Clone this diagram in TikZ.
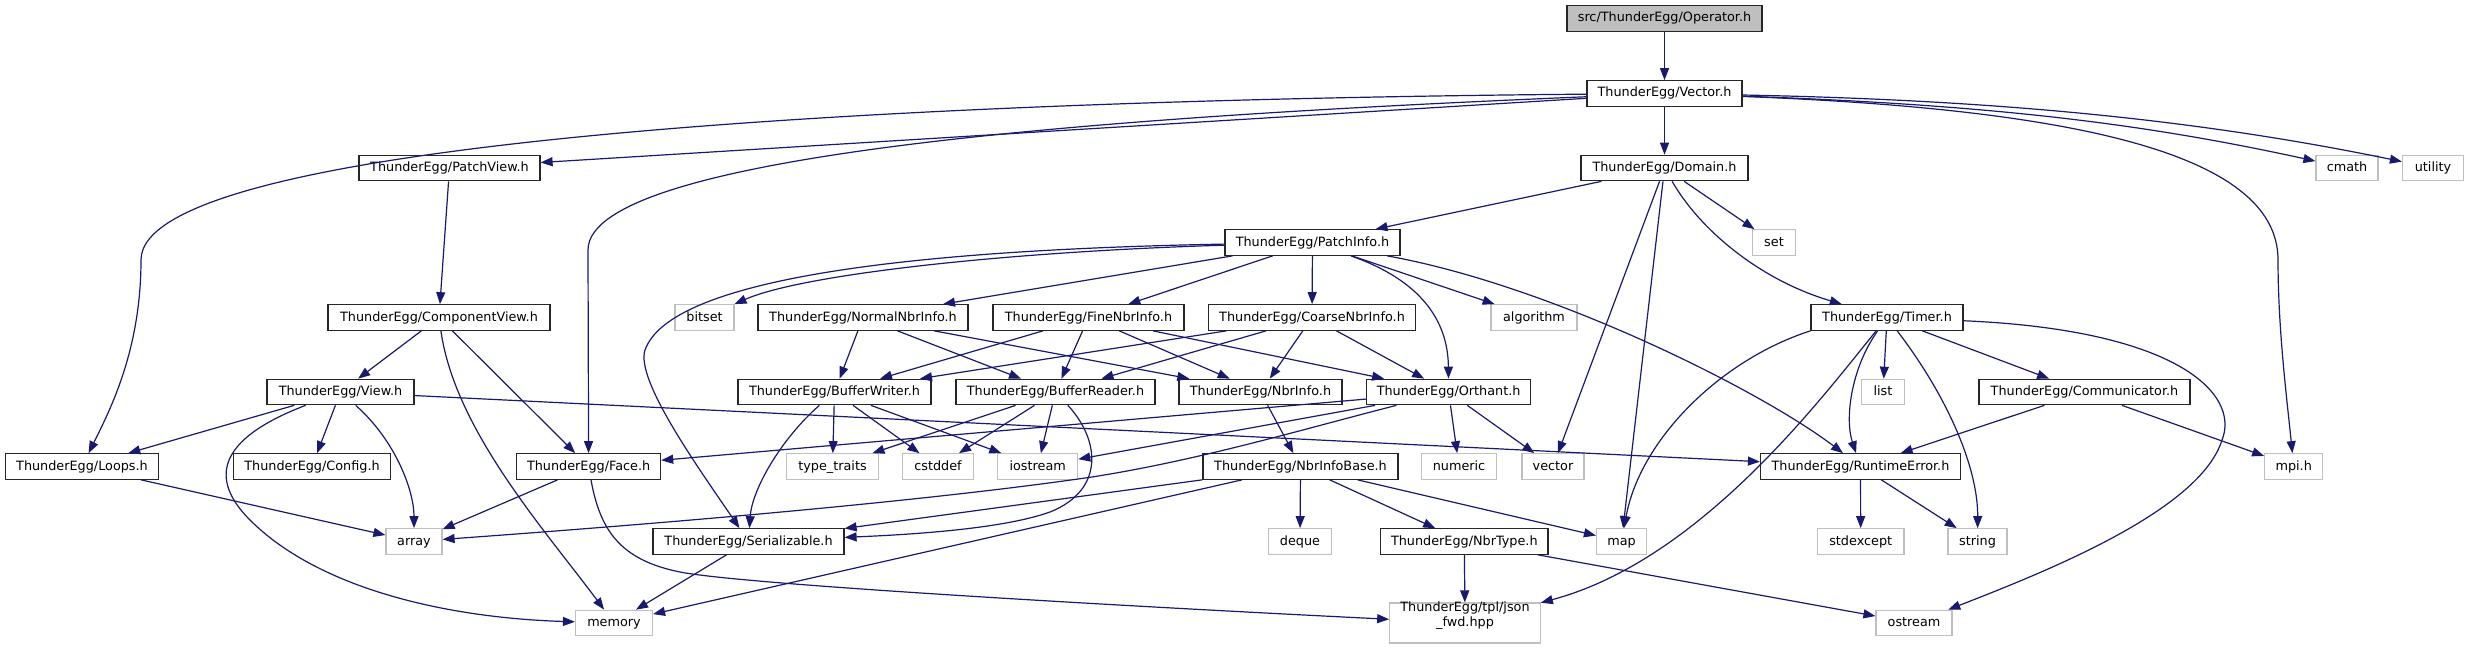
\documentclass[tikz,border=0pt]{standalone}
\usepackage{fontspec}
\setmainfont{DejaVu Sans}
\usetikzlibrary{arrows.meta}
\definecolor{edgec}{HTML}{191970}
\definecolor{extc}{HTML}{BFBFBF}
\definecolor{rootc}{HTML}{BFBFBF}
\tikzset{
  box/.style={draw=black!85, line width=1.2bp, fill=white, inner sep=0pt, minimum height=25.5bp, text height=9.6bp, text depth=2.6bp, font=\fontsize{12.8bp}{15bp}\selectfont},
  ext/.style={box, draw=extc},
  rootbox/.style={box, fill=rootc},
  dep/.style={draw=edgec, line width=1.2bp, -{Triangle[length=12bp,width=9bp]}},
}
\begin{document}
\begin{tikzpicture}[x=1bp,y=-1bp]
\useasboundingbox[fill=white] (0,0) rectangle (2468,649);
% row 1-3
\node[rootbox, minimum width=195bp] (op) at (1664.5,18.5) {src/ThunderEgg/Operator.h};
\node[box, minimum width=155bp] (vec) at (1664.5,93.5) {ThunderEgg/Vector.h};
\node[box, minimum width=167bp] (dom) at (1664.5,168) {ThunderEgg/Domain.h};
\node[box, minimum width=181bp] (pview) at (449.5,168) {ThunderEgg/PatchView.h};
\node[ext, minimum width=62bp] (cmath) at (2347,168) {cmath};
\node[ext, minimum width=61bp] (utility) at (2433,168) {utility};
\node[box, minimum width=175bp] (pinfo) at (1312.5,242.5) {ThunderEgg/PatchInfo.h};
\node[ext, minimum width=43bp] (set) at (1774,242.5) {set};
% row 4
\node[box, minimum width=222bp] (cview) at (439,317.5) {ThunderEgg/ComponentView.h};
\node[ext, minimum width=59bp] (bitset) at (704.5,317.5) {bitset};
\node[box, minimum width=210bp] (normal) at (863,317.5) {ThunderEgg/NormalNbrInfo.h};
\node[box, minimum width=191bp] (fine) at (1088.5,317.5) {ThunderEgg/FineNbrInfo.h};
\node[box, minimum width=207bp] (coarse) at (1312,317.5) {ThunderEgg/CoarseNbrInfo.h};
\node[ext, minimum width=86bp] (algorithm) at (1534,317.5) {algorithm};
\node[box, minimum width=152bp] (timer) at (1887,317.5) {ThunderEgg/Timer.h};
% row 5
\node[box, minimum width=147bp] (view) at (340.5,392) {ThunderEgg/View.h};
\node[box, minimum width=193bp] (bwriter) at (834.5,392) {ThunderEgg/BufferWriter.h};
\node[box, minimum width=199bp] (breader) at (1055.5,392) {ThunderEgg/BufferReader.h};
\node[box, minimum width=163bp] (nbrinfo) at (1260.5,392) {ThunderEgg/NbrInfo.h};
\node[box, minimum width=164bp] (orthant) at (1448.6,392) {ThunderEgg/Orthant.h};
\node[ext, minimum width=43bp] (list) at (1883,392) {list};
\node[box, minimum width=211bp] (comm) at (2084.5,392) {ThunderEgg/Communicator.h};
% row 6
\node[box, minimum width=153.5bp] (loops) at (82,466.5) {ThunderEgg/Loops.h};
\node[box, minimum width=157bp] (config) at (312,466.5) {ThunderEgg/Config.h};
\node[box, minimum width=144bp] (face) at (588.6,466.5) {ThunderEgg/Face.h};
\node[ext, minimum width=91.5bp] (typetraits) at (832.5,466.5) {type\_traits};
\node[ext, minimum width=70.6bp] (cstddef) at (938,466.5) {cstddef};
\node[ext, minimum width=80bp] (iostream) at (1037.7,466.5) {iostream};
\node[box, minimum width=195bp] (nbase) at (1300.5,466.5) {ThunderEgg/NbrInfoBase.h};
\node[ext, minimum width=75bp] (numeric) at (1459,466.5) {numeric};
\node[ext, minimum width=62bp] (vector) at (1553,466.5) {vector};
\node[box, minimum width=200bp] (runtime) at (1860.5,466.5) {ThunderEgg/RuntimeError.h};
\node[ext, minimum width=58bp] (mpi) at (2293.7,466.5) {mpi.h};
% row 7
\node[ext, minimum width=56bp] (array) at (414,541.5) {array};
\node[box, minimum width=191bp] (serial) at (748.5,541.5) {ThunderEgg/Serializable.h};
\node[ext, minimum width=62.5bp] (deque) at (1300,541.5) {deque};
\node[box, minimum width=167.4bp] (nbrtype) at (1464.3,541.5) {ThunderEgg/NbrType.h};
\node[ext, minimum width=50bp] (map) at (1621.5,541.5) {map};
\node[ext, minimum width=86.6bp] (stdexcept) at (1860.7,541.5) {stdexcept};
\node[ext, minimum width=59bp] (string) at (1977.5,541.5) {string};
% row 8
\node[ext, minimum width=77bp] (memory) at (614,623) {memory};
\node[ext, minimum width=150.5bp, minimum height=40bp, align=center, font=\fontsize{12.8bp}{15.5bp}\selectfont] (json) at (1465,623) {ThunderEgg/tpl/json\\\_fwd.hpp};
\node[ext, minimum width=76bp] (ostream) at (1914,623) {ostream};

% edges
\draw[dep] (op) -- (vec);
\draw[dep] (vec) -- (dom);
\draw[dep] (vec) -- (pview);
\draw[dep] (vec) .. controls (900,100) and (141,140) .. (141,260) .. controls (141,350) and (110,410) .. (loops);
\draw[dep] (vec) .. controls (1150,115) and (588,150) .. (588,250) -- (face);
\draw[dep] (vec) .. controls (2000,105) and (2150,125) .. (cmath);
\draw[dep] (vec) .. controls (2000,100) and (2200,120) .. (utility);
\draw[dep] (vec) .. controls (2100,110) and (2278,160) .. (2278,260) .. controls (2278,330) and (2287,400) .. (mpi);

\draw[dep] (dom) -- (pinfo);
\draw[dep] (dom) -- (set);
\draw[dep] (dom) .. controls (1700,230) and (1760,280) .. (timer);
\draw[dep] (dom) -- (vector);
\draw[dep] (dom) -- (map);

\draw[dep] (pview) -- (cview);
\draw[dep] (cview) -- (view);
\draw[dep] (cview) -- (face);
\draw[dep] (cview) .. controls (455,430) and (545,530) .. (memory);

\draw[dep] (view) -- (loops);
\draw[dep] (view) -- (config);
\draw[dep] (view) .. controls (395,440) and (414,490) .. (array);
\draw[dep] (view) .. controls (215,440) and (210,480) .. (250,520) .. controls (320,590) and (450,618) .. (memory);
\draw[dep] (view) -- (runtime);

\draw[dep] (loops) -- (array);
\draw[dep] (face) -- (array);
\draw[dep] (face) .. controls (600,530) and (620,560) .. (680,572) .. controls (740,584) and (1100,605) .. (json);

\draw[dep] (pinfo) .. controls (1000,252) and (800,275) .. (bitset);
\draw[dep] (pinfo) -- (normal);
\draw[dep] (pinfo) -- (fine);
\draw[dep] (pinfo) -- (coarse);
\draw[dep] (pinfo) -- (algorithm);
\draw[dep] (pinfo) .. controls (1420,280) and (1448,320) .. (orthant);
\draw[dep] (pinfo) .. controls (1550,285) and (1760,390) .. (runtime);
\draw[dep] (pinfo) .. controls (900,250) and (670,280) .. (645,350) .. controls (635,380) and (700,470) .. (serial);

\draw[dep] (normal) -- (bwriter);
\draw[dep] (normal) -- (breader);
\draw[dep] (normal) -- (nbrinfo);
\draw[dep] (fine) -- (bwriter);
\draw[dep] (fine) -- (breader);
\draw[dep] (fine) -- (nbrinfo);
\draw[dep] (fine) -- (orthant);
\draw[dep] (coarse) -- (bwriter);
\draw[dep] (coarse) -- (breader);
\draw[dep] (coarse) -- (nbrinfo);
\draw[dep] (coarse) -- (orthant);

\draw[dep] (bwriter) -- (typetraits);
\draw[dep] (bwriter) -- (cstddef);
\draw[dep] (bwriter) -- (iostream);
\draw[dep] (bwriter) .. controls (780,440) and (752,490) .. (serial);

\draw[dep] (breader) -- (typetraits);
\draw[dep] (breader) -- (cstddef);
\draw[dep] (breader) -- (iostream);
\draw[dep] (breader) .. controls (1100,440) and (1105,490) .. (1050,512) .. controls (1000,530) and (900,535) .. (serial);

\draw[dep] (nbrinfo) -- (nbase);

\draw[dep] (orthant) -- (face);
\draw[dep] (orthant) -- (iostream);
\draw[dep] (orthant) .. controls (1300,430) and (1200,460) .. (1092,477) .. controls (900,505) and (600,528) .. (array);
\draw[dep] (orthant) -- (numeric);
\draw[dep] (orthant) -- (vector);

\draw[dep] (nbase) -- (serial);
\draw[dep] (nbase) -- (memory);
\draw[dep] (nbase) -- (deque);
\draw[dep] (nbase) -- (nbrtype);
\draw[dep] (nbase) -- (map);

\draw[dep] (nbrtype) -- (json);
\draw[dep] (nbrtype) -- (ostream);

\draw[dep] (timer.south west) .. controls (1720,360) and (1640,440) .. (map);
\draw[dep] (timer) .. controls (1820,400) and (1700,560) .. (json);
\draw[dep] (timer) .. controls (1850,370) and (1845,420) .. (runtime);
\draw[dep] (timer) -- (list);
\draw[dep] (timer) .. controls (1950,400) and (1978,470) .. (string);
\draw[dep] (timer) -- (comm);
\draw[dep] (timer) .. controls (2180,330) and (2240,395) .. (2222,440) .. controls (2200,510) and (2050,570) .. (ostream);

\draw[dep] (comm) -- (runtime);
\draw[dep] (comm) -- (mpi);

\draw[dep] (runtime) -- (stdexcept);
\draw[dep] (runtime) -- (string);

\draw[dep] (serial) -- (memory);
\end{tikzpicture}
\end{document}
